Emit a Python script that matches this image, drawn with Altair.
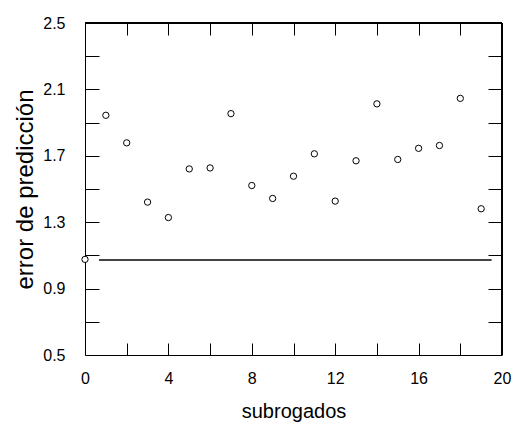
import altair as alt
import pandas as pd

# data
subrogados = list(range(20))
errores = [1.076, 1.944, 1.778, 1.421, 1.328, 1.621, 1.627, 1.954, 1.521, 1.443,
           1.577, 1.712, 1.427, 1.670, 2.013, 1.678, 1.745, 1.762, 2.046, 1.381]
ref_x = [0.67, 19.5]
ref_y = [1.072, 1.072]
x_label_values = [0, 4, 8, 12, 16, 20]
x_tick_values = [2, 4, 6, 8, 10, 12, 14, 16, 18]
y_label_values = [0.5, 0.9, 1.3, 1.7, 2.1, 2.5]
y_tick_values = [0.7, 0.9, 1.1, 1.3, 1.5, 1.7, 1.9, 2.1, 2.3]

pts = pd.DataFrame({"x": subrogados, "y": errores})
ref = pd.DataFrame({"x": ref_x, "y": ref_y})

FONT = "Liberation Sans"
xs = alt.Scale(domain=[0, 20], nice=False, zero=False)
ys = alt.Scale(domain=[0.5, 2.5], nice=False, zero=False)

points = alt.Chart(pts).mark_point(
    shape="circle", filled=True, fill="white", stroke="black",
    strokeWidth=1, size=40, opacity=1
).encode(
    x=alt.X("x:Q", scale=xs, axis=alt.Axis(
        orient="bottom", values=x_label_values, tickSize=0, domain=True,
        domainColor="black", domainWidth=1,
        grid=False, labelPadding=15, labelFontSize=16, labelFont=FONT,
        labelColor="black", title="subrogados", titleFont=FONT,
        titleFontSize=20, titleFontWeight="normal", titleColor="black",
        titlePadding=15, labelFlush=False)),
    y=alt.Y("y:Q", scale=ys, axis=alt.Axis(
        orient="left", values=y_label_values, tickSize=0, domain=True,
        domainColor="black", domainWidth=1,
        grid=False, labelPadding=20, labelFontSize=16, labelFont=FONT,
        labelColor="black", title="error de predicción", titleFont=FONT,
        titleFontSize=24, titleFontWeight="normal", titleColor="black",
        titlePadding=5, labelFlush=False, format=".1f")),
)

line = alt.Chart(ref).mark_line(color="#444", strokeWidth=2).encode(
    x=alt.X("x:Q", scale=xs, axis=alt.Axis(
        orient="bottom", values=x_tick_values, offset=-12, tickSize=12,
        tickColor="black", labels=False, domain=False, grid=False, title=None)),
    y=alt.Y("y:Q", scale=ys, axis=alt.Axis(
        orient="left", values=y_tick_values, offset=-14, tickSize=14,
        tickColor="black", labels=False, domain=False, grid=False, title=None)),
)

frame = alt.Chart(pts).mark_rule(color="black", strokeWidth=2).encode(
    x=alt.X(datum=20, scale=xs, axis=alt.Axis(
        orient="top", values=x_tick_values, offset=-12, tickSize=12,
        tickColor="black", labels=False, domain=False, grid=False, title=None)),
    y=alt.Y(datum=0.5, scale=ys, axis=alt.Axis(
        orient="right", values=y_tick_values, offset=-14, tickSize=14,
        tickColor="black", labels=False, domain=False, grid=False, title=None)),
    y2=alt.Y2(datum=2.5),
)

top = alt.Chart(pts).mark_rule(color="black", strokeWidth=1).encode(
    y=alt.Y(datum=2.5, scale=ys, axis=None),
)

chart = alt.layer(line, frame, top, points).resolve_axis(
    x="independent", y="independent"
).properties(
    width=417, height=332,
    autosize=alt.AutoSizeParams(type="none"),
    padding={"left": 77, "top": 15, "right": 16, "bottom": 75},
).configure_view(stroke="black", strokeWidth=1).configure(background="white")

chart.save("out.html", embed_options={"renderer": "svg", "actions": False})
